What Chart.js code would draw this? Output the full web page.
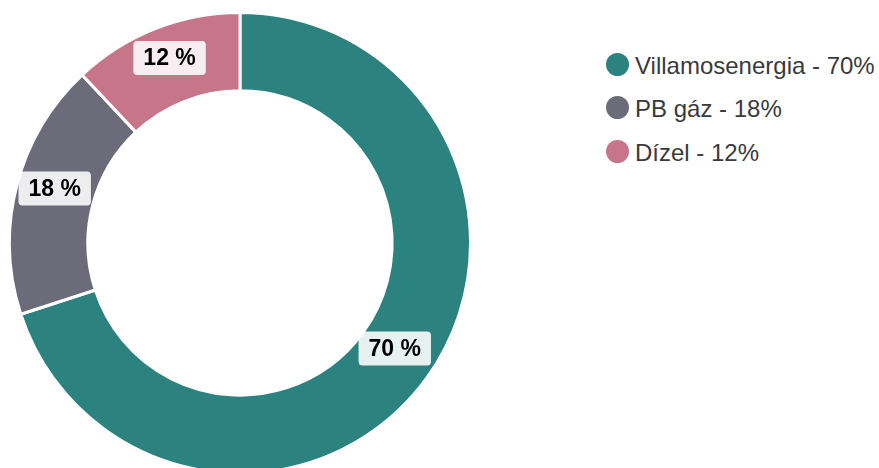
<!DOCTYPE html>
<html>
<head>
<meta charset="utf-8">
<script src="https://cdn.jsdelivr.net/npm/chart.js@4"></script>
<style>
  html, body { margin: 0; padding: 0; background: #fff; overflow: hidden; }
  body { width: 879px; height: 468px; position: relative; font-family: "Liberation Sans", Arial, sans-serif; }
  #chartBox { position: absolute; left: 0; top: 0; width: 480px; height: 486px; }
  #legend { position: absolute; left: 606px; top: 44px; }
  .item { display: flex; align-items: center; height: 43.5px; font-size: 24px; color: #3a3a3a; white-space: nowrap; }
  .dot { width: 23px; height: 23px; border-radius: 50%; margin-right: 6px; margin-top: -3px; }
</style>
</head>
<body>
<div id="chartBox"><canvas id="graphCanvas"></canvas></div>
<div id="legend"></div>
<script>
var labels = ['Villamosenergia', 'PB gáz', 'Dízel'];
var shares = [70, 18, 12];
var colours = ['#2b827f', '#6c6b79', '#c77588'];

// legend
var legend = document.getElementById('legend');
for (var i in labels) {
	var row = document.createElement('div');
	row.className = 'item';
	row.innerHTML = '<span class="dot" style="background:' + colours[i] + '"></span>' + labels[i] + ' - ' + shares[i] + '%';
	legend.appendChild(row);
}

// percent boxes on the slices
var boxLabels = {
	id: 'boxLabels',
	afterDatasetsDraw: function (chart) {
		var ctx = chart.ctx;
		var meta = chart.getDatasetMeta(0);
		ctx.save();
		ctx.font = 'bold 23px "Liberation Sans", Arial, sans-serif';
		ctx.textAlign = 'center';
		ctx.textBaseline = 'middle';
		meta.data.forEach(function (arc, i) {
			var p = arc.tooltipPosition();
			var text = shares[i] + ' %';
			var w = ctx.measureText(text).width + 20;
			var h = 34;
			var x = p.x - w / 2;
			var y = p.y - 7 - h / 2;
			ctx.fillStyle = 'rgba(255,255,255,0.88)';
			ctx.beginPath();
			ctx.roundRect(x, y, w, h, 4);
			ctx.fill();
			ctx.fillStyle = '#000';
			ctx.fillText(text, p.x, p.y - 6);
		});
		ctx.restore();
	}
};

var chartdata = {
	labels: labels,
	datasets: [
		{
			data: shares,
			backgroundColor: colours,
			hoverBackgroundColor: colours,
			borderColor: '#ffffff',
			borderWidth: 3
		}
	]
};

new Chart(document.getElementById('graphCanvas'), {
	type: 'doughnut',
	data: chartdata,
	options: {
		responsive: true,
		maintainAspectRatio: false,
		animation: false,
		cutout: '66%',
		layout: { padding: 8 },
		plugins: {
			legend: { display: false },
			tooltip: { enabled: false }
		}
	},
	plugins: [boxLabels]
});
</script>
</body>
</html>
